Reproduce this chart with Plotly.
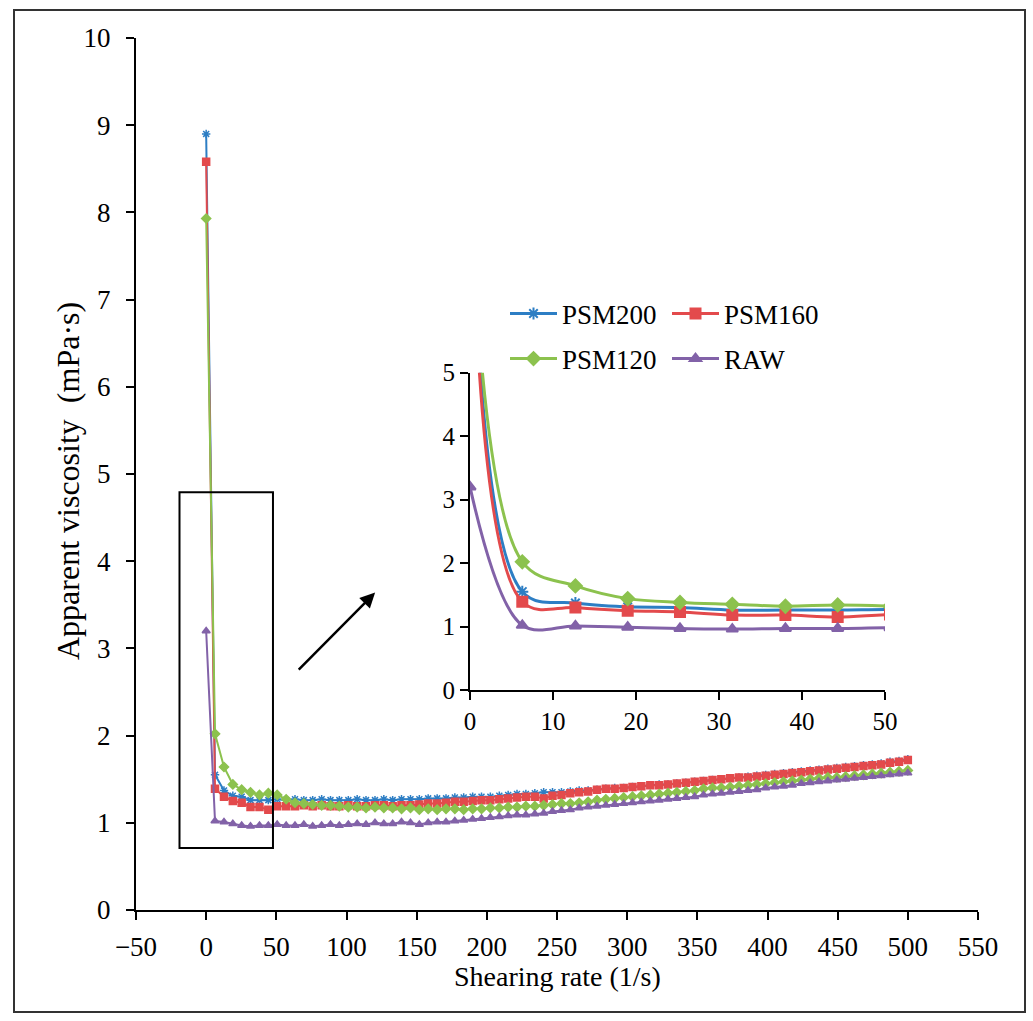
import plotly.graph_objects as go

# Shearing rate grid (1/s)
shear_rate = [0.0, 6.3, 12.7, 19.0, 25.3, 31.6, 38.0, 44.3, 50.6, 57.0,
              63.3, 69.6, 75.9, 82.3, 88.6, 94.9, 101.3, 107.6, 113.9, 120.3,
              126.6, 132.9, 139.2, 145.6, 151.9, 158.2, 164.6, 170.9, 177.2, 183.5,
              189.9, 196.2, 202.5, 208.9, 215.2, 221.5, 227.8, 234.2, 240.5, 246.8,
              253.2, 259.5, 265.8, 272.2, 278.5, 284.8, 291.1, 297.5, 303.8, 310.1,
              316.5, 322.8, 329.1, 335.4, 341.8, 348.1, 354.4, 360.8, 367.1, 373.4,
              379.7, 386.1, 392.4, 398.7, 405.1, 411.4, 417.7, 424.1, 430.4, 436.7,
              443.0, 449.4, 455.7, 462.0, 468.4, 474.7, 481.0, 487.3, 493.7, 500.0]

# Apparent viscosity (mPa·s)
psm200 = [8.90, 1.55, 1.37, 1.31, 1.30, 1.26, 1.26, 1.26, 1.27,
          1.26, 1.27, 1.26, 1.26, 1.27, 1.26, 1.26, 1.26, 1.27, 1.26, 1.26, 1.27, 1.26, 1.27, 1.27,
          1.27, 1.28, 1.28, 1.28, 1.29, 1.29, 1.30, 1.30,
          1.30, 1.31, 1.32, 1.33, 1.33, 1.34, 1.35,
          1.35, 1.35, 1.36, 1.37, 1.37, 1.38,
          1.39, 1.40, 1.40, 1.41, 1.42, 1.43, 1.44, 1.44, 1.45, 1.46, 1.47, 1.48,
          1.49, 1.50, 1.51, 1.52, 1.53, 1.54, 1.55, 1.56, 1.57, 1.58, 1.59,
          1.60, 1.61, 1.62, 1.63, 1.64, 1.65, 1.66, 1.67, 1.68, 1.70, 1.71, 1.73]

psm160 = [8.58, 1.39, 1.30, 1.25, 1.23, 1.18, 1.18, 1.15, 1.19,
          1.19, 1.19, 1.20, 1.19, 1.20, 1.19, 1.19, 1.20, 1.19, 1.19, 1.20, 1.20, 1.19, 1.20, 1.20,
          1.21, 1.22, 1.22, 1.23, 1.24, 1.24, 1.25, 1.26,
          1.26, 1.27, 1.28, 1.29, 1.30, 1.30, 1.28,
          1.31, 1.32, 1.34, 1.35, 1.36, 1.38,
          1.39, 1.39, 1.40, 1.41, 1.42, 1.43, 1.43, 1.44, 1.45, 1.46, 1.47, 1.48,
          1.49, 1.50, 1.51, 1.52, 1.52, 1.53, 1.54, 1.55, 1.56, 1.57, 1.58,
          1.59, 1.60, 1.61, 1.62, 1.63, 1.64, 1.65, 1.66, 1.67, 1.69, 1.70, 1.72]

psm120 = [7.93, 2.02, 1.64, 1.44, 1.38, 1.35, 1.32, 1.34, 1.32,
          1.27, 1.23, 1.22, 1.21, 1.20, 1.20, 1.19, 1.18, 1.18, 1.17, 1.18, 1.17, 1.17, 1.16, 1.17,
          1.15, 1.16, 1.15, 1.16, 1.16, 1.15, 1.16, 1.16, 1.17, 1.17, 1.18, 1.18, 1.19, 1.19, 1.20,
          1.21, 1.22, 1.22, 1.23, 1.24, 1.26,
          1.27, 1.28, 1.29, 1.30, 1.31, 1.32, 1.33, 1.34, 1.35, 1.36, 1.37, 1.39,
          1.40, 1.40, 1.41, 1.42, 1.43, 1.44, 1.45, 1.46, 1.47, 1.48, 1.49,
          1.50, 1.51, 1.52, 1.52, 1.53, 1.54, 1.55, 1.56, 1.57, 1.58, 1.59, 1.60]

raw = [3.20, 1.02, 1.01, 0.99, 0.97, 0.96, 0.97, 0.97, 0.98,
       0.97, 0.97, 0.98, 0.96, 0.97, 0.98, 0.97, 0.98, 0.99, 0.98, 1.00, 0.99, 0.99, 1.01, 1.00,
       0.98, 1.00, 1.01, 1.01, 1.02, 1.03, 1.04, 1.05, 1.06, 1.07, 1.08, 1.09, 1.09, 1.10, 1.11,
       1.13, 1.14, 1.15, 1.17, 1.18, 1.19,
       1.20, 1.21, 1.22, 1.23, 1.24, 1.25, 1.26, 1.27, 1.28, 1.29, 1.30, 1.32,
       1.33, 1.34, 1.35, 1.36, 1.37, 1.38, 1.40, 1.41, 1.42, 1.43, 1.45,
       1.46, 1.47, 1.48, 1.49, 1.50, 1.51, 1.52, 1.53, 1.54, 1.55, 1.56, 1.57]

series_names = ["PSM200", "PSM160", "PSM120", "RAW"]
series_values = [psm200, psm160, psm120, raw]
series_colors = ["#2D7EC4", "#E34A4C", "#8CC24E", "#8262A8"]
series_symbols = ["asterisk-open", "square", "diamond", "triangle-up"]
series_legend = ["legend", "legend", "legend2", "legend2"]

x_ticks = [-50, 0, 50, 100, 150, 200, 250, 300, 350, 400, 450, 500, 550]
y_ticks = [0, 1, 2, 3, 4, 5, 6, 7, 8, 9, 10]
inset_x_ticks = [0, 10, 20, 30, 40, 50]
inset_y_ticks = [0, 1, 2, 3, 4, 5]

W, H = 1033, 1021
ML, MR, MT, MB = 136, 55, 38, 111
PW, PH = W - ML - MR, H - MT - MB


def px(xp):
    return (xp - ML) / PW


def py(yp):
    return (H - MB - yp) / PH


SERIF = "Liberation Serif"

fig = go.Figure()

# main panel
for name, vals, col, sym in zip(series_names, series_values, series_colors, series_symbols):
    fig.add_trace(go.Scatter(
        x=shear_rate, y=vals, mode="lines+markers", name=name,
        line=dict(color=col, width=2),
        marker=dict(symbol=sym, size=7, color=col, line=dict(color=col, width=1.5)),
        showlegend=False, xaxis="x", yaxis="y",
    ))

# zoomed-in panel with smoothed curves and the legend
for name, vals, col, sym, lg in zip(series_names, series_values, series_colors,
                                    series_symbols, series_legend):
    fig.add_trace(go.Scatter(
        x=shear_rate, y=vals, mode="lines+markers", name=name,
        line=dict(color=col, width=3, shape="spline", smoothing=1.0),
        marker=dict(symbol=sym, size=10, color=col, line=dict(color=col, width=2)),
        legend=lg, xaxis="x2", yaxis="y2",
    ))

axis_common = dict(
    showgrid=False, zeroline=False, showline=True, linecolor="black", linewidth=2,
    ticks="outside", ticklen=8, tickwidth=2, tickcolor="black",
)
main_font = dict(family=SERIF, size=27, color="black")
inset_font = dict(family=SERIF, size=25, color="black")

legend_common = dict(
    orientation="h", xanchor="left", yanchor="middle",
    entrywidth=100, entrywidthmode="pixels", itemwidth=47,
    font=dict(family=SERIF, size=27, color="black"),
    bgcolor="rgba(0,0,0,0)", tracegroupgap=0,
)

fig.update_layout(
    width=W, height=H,
    margin=dict(l=ML, r=MR, t=MT, b=MB),
    paper_bgcolor="white", plot_bgcolor="white",
    font=dict(family=SERIF, color="black"),
    xaxis=dict(range=[-50, 550], tickvals=x_ticks, tickfont=main_font,
               ticklabelstandoff=4, **axis_common),
    yaxis=dict(range=[0, 10], tickvals=y_ticks, tickfont=main_font,
               ticklabelstandoff=10, **axis_common),
    xaxis2=dict(range=[0, 50], tickvals=inset_x_ticks, anchor="y2", tickfont=inset_font,
                domain=[px(470), px(885)], **axis_common),
    yaxis2=dict(range=[0, 5], tickvals=inset_y_ticks, anchor="x2", tickfont=inset_font,
                domain=[py(690), py(372.7)], **axis_common),
    legend=dict(x=px(505), y=py(314), **legend_common),
    legend2=dict(x=px(505), y=py(359), **legend_common),
    shapes=[
        # outer frame
        dict(type="rect", xref="paper", yref="paper",
             x0=px(14), x1=px(1025), y0=py(1012), y1=py(10),
             line=dict(color="#333333", width=2)),
        # region shown in the zoomed panel
        dict(type="rect", xref="x", yref="y", x0=-19.0, x1=47.6, y0=0.71, y1=4.79,
             line=dict(color="black", width=2)),
    ],
    annotations=[
        dict(text="Shearing rate (1/s)", xref="paper", yref="paper",
             x=px(557), y=py(977), xanchor="center", yanchor="middle", showarrow=False,
             font=dict(family=SERIF, size=28, color="black")),
        dict(text="Apparent viscosity  (mPa·s)", xref="paper", yref="paper",
             x=px(68), y=py(481), xanchor="center", yanchor="middle", showarrow=False,
             textangle=-90, font=dict(family=SERIF, size=32, color="black")),
        dict(text="", xref="x", yref="y", x=120.4, y=3.64, ax=64.9, ay=2.74,
             axref="x", ayref="y", showarrow=True, arrowhead=2, arrowsize=1.2,
             arrowwidth=2.5, arrowcolor="black"),
    ],
)

fig.write_html("out.html")
